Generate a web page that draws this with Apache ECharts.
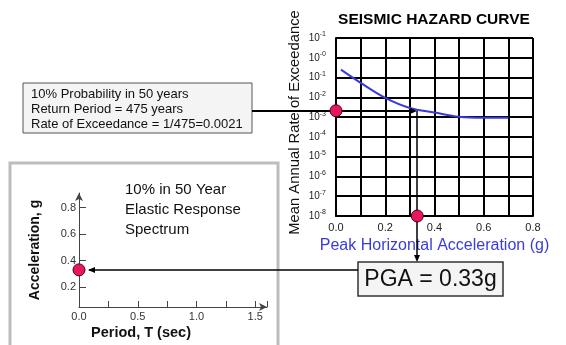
<!DOCTYPE html>
<html><head><meta charset="utf-8">
<script src="https://cdn.jsdelivr.net/npm/echarts@6/dist/echarts.min.js"></script>
<style>html,body{margin:0;padding:0;background:#fff}#c{width:566px;height:345px}</style>
</head><body><div id="c"></div>
<script>
// ---- Seismic hazard curve ----
const hazardPGA = [0.02, 0.1, 0.2, 0.3, 0.4, 0.5, 0.6, 0.7];
const hazardRate = [0.25, 0.054, 0.0094, 0.0029, 0.0017, 0.00103, 0.00092, 0.00092];
const hazardXTickLabels = ['0.0', '0.2', '0.4', '0.6', '0.8'];
const hazardYExp = [-8, -7, -6, -5, -4, -3, -2, -1, 0, 1];
const hazardYExpLabels = ['-8', '-7', '-6', '-5', '-4', '-3', '-2', '-1', '-0', '-1'];
// ---- design point ----
const targetPGA = [0.33];
const targetRate = [0.0021];
// ---- response spectrum ----
const spectrumPeriod = [0.0];
const spectrumAccel = [0.33];
const spectrumYTicks = [0.2, 0.4, 0.6, 0.8];
const spectrumXTickLabels = ['0.0', '0.5', '1.0', '1.5'];
// ---- texts ----
const hazardTitle = 'SEISMIC HAZARD CURVE';
const hazardYName = 'Mean Annual Rate of Exceedance';
const hazardXName = 'Peak Horizontal Acceleration (g)';
const infoLines = ['10% Probability in 50 years', 'Return Period = 475 years', 'Rate of Exceedance = 1/475=0.0021'];
const pgaLabel = 'PGA = 0.33g';
const spectrumTitleLines = ['10% in 50 Year', 'Elastic Response', 'Spectrum'];
const spectrumYName = 'Acceleration, g';
const spectrumXName = 'Period, T (sec)';

const FONT = 'Liberation Sans, Arial, sans-serif';
const DOT = '#e8175d';
const chart = echarts.init(document.getElementById('c'), null, {renderer: 'canvas'});

const hazXMin = 0, hazXMax = 0.8, hazYMin = 1e-8, hazYMax = 10;

const option = {
  animation: false,
  backgroundColor: '#fff',
  textStyle: {fontFamily: FONT},
  grid: [
    {left: 336, top: 38, width: 197, height: 178},
    {left: 79, top: 193, width: 188, height: 114}
  ],
  xAxis: [
    {
      gridIndex: 0, type: 'value', min: hazXMin, max: hazXMax, interval: 0.1,
      name: hazardXName, nameLocation: 'middle', nameGap: 19,
      nameTextStyle: {color: '#3b3bdc', fontSize: 16, fontFamily: FONT},
      axisLine: {show: true, lineStyle: {color: '#000', width: 2}},
      axisTick: {show: false},
      splitLine: {show: true, lineStyle: {color: '#000', width: 2}},
      axisLabel: {
        margin: 6, fontSize: 11, color: '#222', fontFamily: FONT,
        formatter: v => {
          const f = hazardXTickLabels.find(s => Math.abs(parseFloat(s) - v) < 1e-6);
          return f || '';
        }
      }
    },
    {
      gridIndex: 1, type: 'value', min: 0, max: 1.6, interval: 0.25,
      axisLine: {show: true, lineStyle: {color: '#444', width: 1}, symbol: ['none', 'arrow'], symbolSize: [6, 8]},
      axisTick: {show: true, inside: true, length: 6, lineStyle: {color: '#444'}},
      splitLine: {show: false},
      axisLabel: {
        margin: 4, fontSize: 11, color: '#333', fontFamily: FONT,
        formatter: v => {
          const f = spectrumXTickLabels.find(s => Math.abs(parseFloat(s) - v) < 1e-6);
          return f || '';
        }
      }
    }
  ],
  yAxis: [
    {
      gridIndex: 0, type: 'log', logBase: 10, min: hazYMin, max: hazYMax, interval: 1,
      axisLine: {show: true, lineStyle: {color: '#000', width: 2}},
      axisTick: {show: false},
      splitLine: {show: true, lineStyle: {color: '#000', width: 2}},
      axisLabel: {
        margin: 10, fontFamily: FONT,
        formatter: v => {
          const e = Math.round(Math.log10(v));
          const i = hazardYExp.indexOf(e);
          return i < 0 ? '' : '{b|10}{s|' + hazardYExpLabels[i] + '}';
        },
        rich: {
          b: {fontSize: 10, color: '#222', lineHeight: 14, fontFamily: FONT},
          s: {fontSize: 7, color: '#222', lineHeight: 8, verticalAlign: 'top', fontFamily: FONT}
        }
      }
    },
    {
      gridIndex: 1, type: 'value', min: 0.05, max: 0.91,
      name: spectrumYName, nameLocation: 'middle', nameGap: 37, nameRotate: 90,
      nameTextStyle: {color: '#111', fontSize: 14, fontWeight: 'bold', fontFamily: FONT},
      axisLine: {show: true, lineStyle: {color: '#444', width: 1}, symbol: ['none', 'arrow'], symbolSize: [6, 8]},
      axisTick: {show: true, inside: true, length: 7, customValues: spectrumYTicks, lineStyle: {color: '#444'}},
      splitLine: {show: false},
      axisLabel: {margin: 3, fontSize: 11, color: '#333', fontFamily: FONT, customValues: spectrumYTicks,
        formatter: v => v.toFixed(1)}
    }
  ],
  series: [
    {
      type: 'line', xAxisIndex: 0, yAxisIndex: 0, smooth: 0.35, showSymbol: false, silent: true,
      lineStyle: {color: '#3a3ad8', width: 2},
      data: hazardPGA.map((x, i) => [x, hazardRate[i]]),
      z: 3
    },
    {
      type: 'scatter', xAxisIndex: 0, yAxisIndex: 0, clip: false, symbolSize: 12,
      itemStyle: {color: DOT, borderColor: '#4a0012', borderWidth: 1, opacity: 1},
      data: [[hazXMin, targetRate[0]], [targetPGA[0], hazYMin]],
      z: 5
    },
    {
      type: 'scatter', xAxisIndex: 1, yAxisIndex: 1, clip: false, symbolSize: 12,
      itemStyle: {color: DOT, borderColor: '#4a0012', borderWidth: 1, opacity: 1},
      data: spectrumPeriod.map((x, i) => [x, spectrumAccel[i]]),
      z: 5
    }
  ]
};
chart.setOption(option);

// Annotations positioned through the chart's own scales
const pA = chart.convertToPixel({gridIndex: 0}, [hazXMin, targetRate[0]]);
const pB = chart.convertToPixel({gridIndex: 0}, [targetPGA[0], targetRate[0]]);
const pD = chart.convertToPixel({gridIndex: 1}, [spectrumPeriod[0], spectrumAccel[0]]);

const infoBox = {x: 23, y: 83, w: 229, h: 50};
const pgaBox = {x: 358, y: 262, w: 145, h: 34};

function arrowHead(tip, dir, len, half) {
  let pts;
  if (dir === 'right') pts = [[tip[0], tip[1]], [tip[0] - len, tip[1] - half], [tip[0] - len, tip[1] + half]];
  else if (dir === 'left') pts = [[tip[0], tip[1]], [tip[0] + len, tip[1] - half], [tip[0] + len, tip[1] + half]];
  else pts = [[tip[0], tip[1]], [tip[0] - half, tip[1] - len], [tip[0] + half, tip[1] - len]];
  return {type: 'polygon', shape: {points: pts}, style: {fill: '#000'}, z: 4};
}

const ly = Math.round(pA[1]);
const bx = Math.round(pB[0]);
const dy = Math.round(pD[1]);
const graphics = [
  // spectrum frame
  {type: 'rect', shape: {x: 10, y: 163, width: 268, height: 220}, style: {fill: 'none', stroke: '#bdbdbd', lineWidth: 3}, z: 1},
  // hazard title
  {type: 'text', x: 434, y: 20, style: {text: hazardTitle, font: 'bold 15.5px ' + FONT, fill: '#000', align: 'center', verticalAlign: 'middle'}, z: 4},
  // hazard y-axis name
  {type: 'text', x: 295, y: 122.5, rotation: Math.PI / 2, style: {text: hazardYName, font: '14.8px ' + FONT, fill: '#111', align: 'center', verticalAlign: 'middle'}, z: 3},
  // info box
  {type: 'rect', shape: {x: infoBox.x, y: infoBox.y, width: infoBox.w, height: infoBox.h}, style: {fill: '#f4f4f4', stroke: '#555', lineWidth: 1}, z: 4},
  {type: 'text', x: infoBox.x + 8, y: infoBox.y + infoBox.h / 2 + 1, style: {text: infoLines.join('\n'), font: '13px ' + FONT, fill: '#111', lineHeight: 15, verticalAlign: 'middle'}, z: 5},
  // PGA box
  {type: 'rect', shape: {x: pgaBox.x, y: pgaBox.y, width: pgaBox.w, height: pgaBox.h}, style: {fill: '#f4f4f4', stroke: '#333', lineWidth: 1.5}, z: 4},
  {type: 'text', x: pgaBox.x + pgaBox.w / 2, y: pgaBox.y + pgaBox.h / 2 + 1, style: {text: pgaLabel, font: '23px ' + FONT, fill: '#111', align: 'center', verticalAlign: 'middle'}, z: 5},
  // spectrum title text
  {type: 'text', x: 125, y: 180, style: {text: spectrumTitleLines.join('\n'), font: '15px ' + FONT, fill: '#111', lineHeight: 20}, z: 4},
  // spectrum x name
  {type: 'text', x: 141, y: 333, style: {text: spectrumXName, font: 'bold 14.5px ' + FONT, fill: '#111', align: 'center', verticalAlign: 'middle'}, z: 4},
  // line 1: info box -> curve
  {type: 'line', shape: {x1: infoBox.x + infoBox.w, y1: ly, x2: bx - 2, y2: ly}, style: {stroke: '#000', lineWidth: 2}, z: 4},
  arrowHead([bx, ly], 'right', 7, 3),
  // line 2: curve -> PGA box
  {type: 'line', shape: {x1: bx, y1: ly, x2: bx, y2: pgaBox.y - 2}, style: {stroke: '#000', lineWidth: 1.5}, z: 4},
  arrowHead([bx, pgaBox.y], 'down', 7, 3),
  // line 3: PGA box -> spectrum
  {type: 'line', shape: {x1: pgaBox.x, y1: dy, x2: pD[0] + 10, y2: dy}, style: {stroke: '#000', lineWidth: 1.5}, z: 4},
  arrowHead([pD[0] + 9, dy], 'left', 7, 3)
];
chart.setOption({graphic: graphics});
</script>
</body></html>
